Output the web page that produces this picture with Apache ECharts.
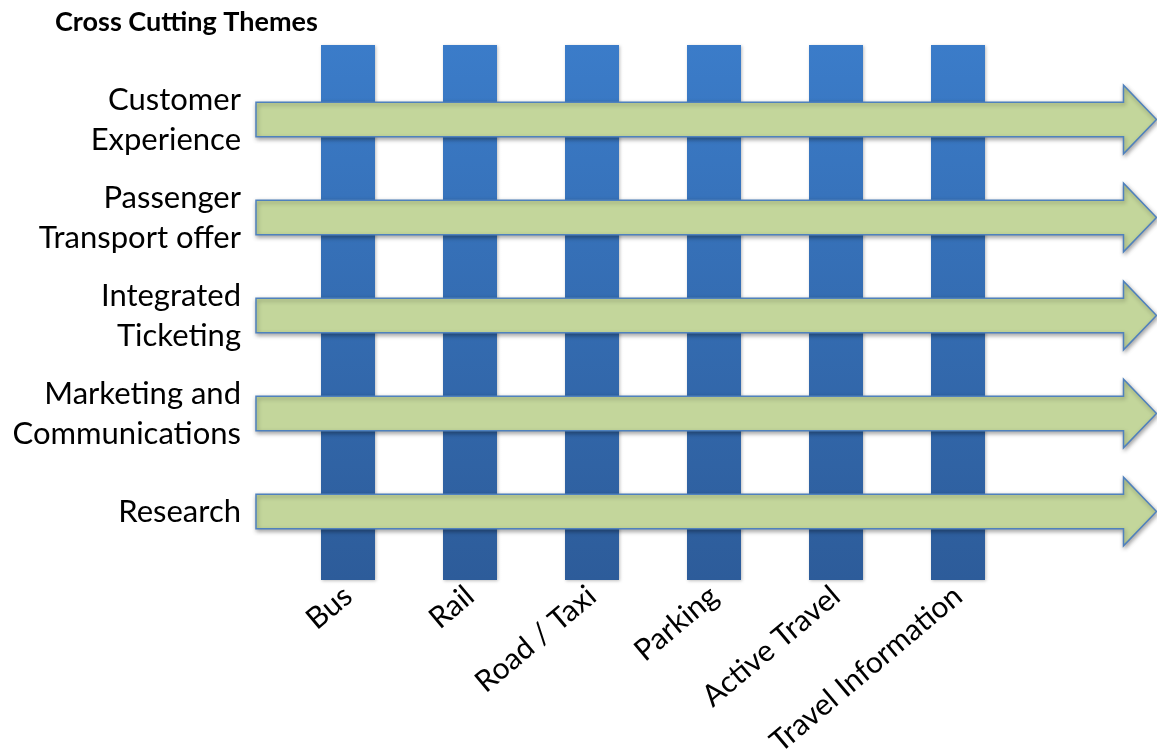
<!DOCTYPE html>
<html>
<head>
<meta charset="utf-8">
<script src="https://cdn.jsdelivr.net/npm/echarts@6/dist/echarts.min.js"></script>
<style>
html,body{margin:0;padding:0;background:#fff;}
#chart{width:1157px;height:751px;}
</style>
</head>
<body>
<div id="chart"></div>
<script>
// ---- data ----
const titleText = 'Cross Cutting Themes';
const modes = ['Bus', 'Rail', 'Road / Taxi', 'Parking', 'Active Travel', 'Travel Information'];
const modeSpan = [1, 1, 1, 1, 1, 1];           // every mode pillar spans the full height
const themes = ['Customer\nExperience', 'Passenger\nTransport offer', 'Integrated\nTicketing', 'Marketing and\nCommunications', 'Research'];
const themeStart = [0, 0, 0, 0, 0];              // each theme arrow runs across all modes
const themeEnd = [1, 1, 1, 1, 1];

const FONT = 'Lato, "Open Sans", sans-serif';
const chart = echarts.init(document.getElementById('chart'), null, {renderer: 'canvas'});

const option = {
  backgroundColor: '#ffffff',
  animation: false,
  title: {
    text: titleText,
    left: 50, top: 4,
    textStyle: {fontFamily: FONT, fontWeight: 'bold', fontSize: 27, color: '#000'}
  },
  grid: [
    {left: 287, right: 138, top: 45, bottom: 171, outerBoundsMode: 'none', containLabel: false},
    {left: 256, right: 0, top: 70.5, bottom: 190.5, outerBoundsMode: 'none', containLabel: false}
  ],
  xAxis: [
    {
      type: 'category', gridIndex: 0, data: modes,
      axisLine: {show: false}, axisTick: {show: false},
      axisLabel: {rotate: 40, margin: 12, fontFamily: FONT, fontSize: 30, color: '#000', interval: 0}
    },
    {type: 'value', gridIndex: 1, min: 0, max: 1, show: false}
  ],
  yAxis: [
    {type: 'value', gridIndex: 0, min: 0, max: 1, show: false},
    {
      type: 'category', gridIndex: 1, data: themes, inverse: true,
      axisLine: {show: false}, axisTick: {show: false}, splitLine: {show: false},
      axisLabel: {margin: 15, fontFamily: FONT, fontSize: 31, lineHeight: 40, color: '#000', align: 'right'}
    }
  ],
  series: [
    {
      type: 'bar', xAxisIndex: 0, yAxisIndex: 0, z: 1,
      barWidth: 54,
      data: modeSpan,
      itemStyle: {
        color: new echarts.graphic.LinearGradient(0, 0, 0, 1, [
          {offset: 0, color: '#3b7cc9'},
          {offset: 1, color: '#2d5c9a'}
        ]),
        shadowBlur: 3, shadowOffsetX: 1, shadowOffsetY: 1, shadowColor: 'rgba(0,0,0,0.25)'
      }
    },
    {
      type: 'custom', xAxisIndex: 1, yAxisIndex: 1, z: 3,
      data: themes.map((t, i) => [themeStart[i], themeEnd[i], i]),
      renderItem: function (params, api) {
        const i = api.value(2);
        const p0 = api.coord([api.value(0), i]);
        const p1 = api.coord([api.value(1), i]);
        const band = api.size([0, 1])[1];
        const cy = p0[1];
        const sh = band * 0.175;
        const hh = band * 0.35;
        const headLen = 33;
        const x0 = p0[0], x2 = p1[0] - 0.5, x1 = x2 - headLen;
        return {
          type: 'polygon',
          shape: {points: [[x0, cy - sh], [x1, cy - sh], [x1, cy - hh], [x2, cy], [x1, cy + hh], [x1, cy + sh], [x0, cy + sh]]},
          style: {
            fill: '#c3d69b', stroke: '#4f81bd', lineWidth: 1.5,
            shadowBlur: 4, shadowOffsetX: 1, shadowOffsetY: 2, shadowColor: 'rgba(0,0,0,0.35)'
          }
        };
      }
    }
  ]
};
chart.setOption(option);
</script>
</body>
</html>
